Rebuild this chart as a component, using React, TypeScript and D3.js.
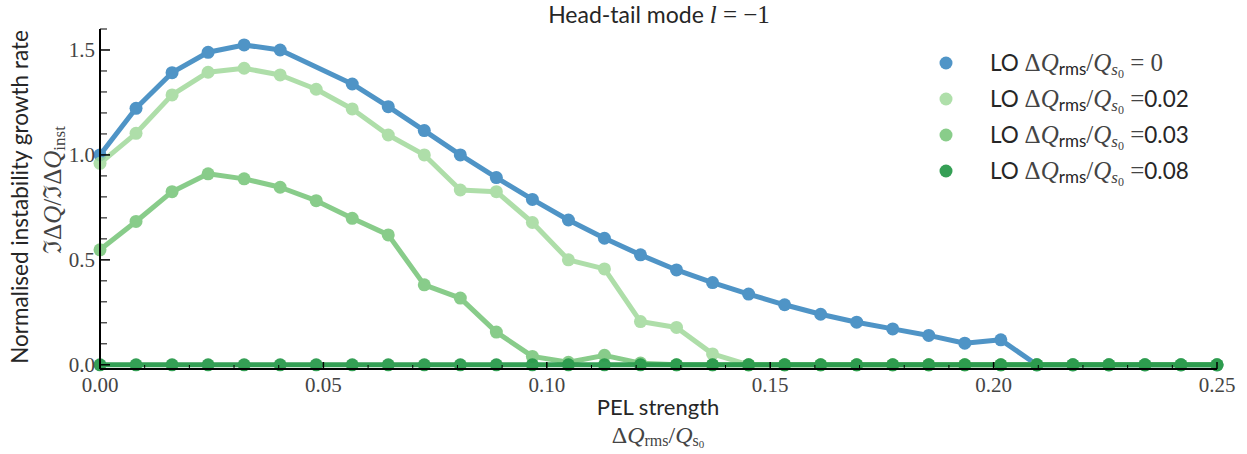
import React from "react";
import * as d3 from "d3";

const W = 1247;
const H = 454;

const N = 32;
const xMax = 0.25;
const xValues = d3.range(N).map((i) => (i * xMax) / (N - 1));

const lo0: (number | null)[] = [1.0, 1.222, 1.392, 1.489, 1.524, 1.5, null, 1.338, 1.23, 1.116, 1.0, 0.892, 0.788, 0.69, 0.603, 0.524, 0.452, 0.392, 0.337, 0.286, 0.241, 0.203, 0.171, 0.14, 0.103, 0.119, 0, 0, 0, 0, 0, 0];
const lo002: (number | null)[] = [0.96, 1.103, 1.286, 1.394, 1.413, 1.381, 1.313, 1.219, 1.095, 1.0, 0.833, 0.825, 0.678, 0.5, 0.457, 0.206, 0.178, 0.052, 0, 0, 0, 0, 0, 0, 0, 0, 0, 0, 0, 0, 0, 0];
const lo003: (number | null)[] = [0.548, 0.683, 0.825, 0.91, 0.886, 0.846, 0.782, 0.698, 0.619, 0.381, 0.318, 0.156, 0.04, 0.012, 0.045, 0.008, 0, 0, 0, 0, 0, 0, 0, 0, 0, 0, 0, 0, 0, 0, 0, 0];
const lo008: (number | null)[] = [0, 0, 0, 0, 0, 0, 0, 0, 0, 0, 0, 0, 0, 0, 0, 0, 0, 0, 0, 0, 0, 0, 0, 0, 0, 0, 0, 0, 0, 0, 0, 0];

const seriesValues = [lo0, lo002, lo003, lo008];
const seriesSuffix = ["= 0", "=0.02", "=0.03", "=0.08"];
const seriesColors = ["#3182bd", "#a1d99b", "#74c476", "#2a9a4c"];
const seriesOpacity = [0.85, 0.85, 0.85, 0.95];

const xMajorTicks = [0, 0.05, 0.1, 0.15, 0.2, 0.25];
const yMajorTicks = [0, 0.5, 1.0, 1.5];

const SANS = "Lato, 'Noto Sans', sans-serif";
const SERIF = "'Liberation Serif', 'DejaVu Serif', serif";

export default function App() {
  const left = 100, right = 1217, top = 29, bottom = 369;
  const x = d3.scaleLinear().domain([0, xMax]).range([left, right]);
  const y = d3.scaleLinear().domain([-0.02, 1.6]).range([bottom, top]);

  const line = d3
    .line<{ x: number; v: number }>()
    .x((d) => x(d.x))
    .y((d) => y(d.v));

  const xMinor = d3.range(0, 0.2501, 0.01).filter((t) => !xMajorTicks.some((m) => Math.abs(m - t) < 1e-6));
  const yMinor = d3.range(0, 1.601, 0.1).filter((t) => !yMajorTicks.some((m) => Math.abs(m - t) < 1e-6));

  const legendX = 946;
  const legendY0 = 63;
  const legendDy = 36;

  const MS = 25; // math size
  const SS = 17; // subscript size

  return (
    <svg width={W} height={H} style={{ position: "absolute", left: 0, top: 0, background: "#fff" }}>
      {/* title */}
      <text x={659} y={23} textAnchor="middle" fontSize={23} fill="#262626" fontFamily={SANS}>
        Head-tail mode{" "}
        <tspan fontFamily={SERIF} fontStyle="italic" fontSize={MS}>l</tspan>
        <tspan fontFamily={SERIF} fontSize={MS}> = −1</tspan>
      </text>

      {/* series */}
      {seriesValues.map((vals, si) => {
        const pts = xValues
          .map((xv, i) => ({ x: xv, v: vals[i] }))
          .filter((d) => d.v !== null) as { x: number; v: number }[];
        return (
          <g key={si} opacity={seriesOpacity[si]}>
            <path d={line(pts) || ""} fill="none" stroke={seriesColors[si]} strokeWidth={5} strokeLinejoin="round" />
            {pts.map((d, i) => (
              <circle key={i} cx={x(d.x)} cy={y(d.v)} r={6.5} fill={seriesColors[si]} />
            ))}
          </g>
        );
      })}

      {/* spines */}
      <line x1={left} x2={left} y1={top} y2={bottom} stroke="#000" strokeWidth={2} />
      <line x1={left} x2={right} y1={bottom} y2={bottom} stroke="#000" strokeWidth={2} />

      {/* x ticks */}
      {xMajorTicks.map((t) => (
        <g key={"xm" + t}>
          <line x1={x(t)} x2={x(t)} y1={bottom} y2={bottom - 7} stroke="#000" strokeWidth={1.5} />
          <text x={x(t)} y={392} textAnchor="middle" fontSize={21} fill="#444" fontFamily={SERIF}>
            {t.toFixed(2)}
          </text>
        </g>
      ))}
      {xMinor.map((t) => (
        <line key={"xn" + t} x1={x(t)} x2={x(t)} y1={bottom} y2={bottom - 4} stroke="#000" strokeWidth={1} />
      ))}

      {/* y ticks */}
      {yMajorTicks.map((t) => (
        <g key={"ym" + t}>
          <line x1={left} x2={left + 10} y1={y(t)} y2={y(t)} stroke="#000" strokeWidth={1.5} />
          <text x={95} y={y(t) + 7} textAnchor="end" fontSize={21} fill="#444" fontFamily={SERIF}>
            {t.toFixed(1)}
          </text>
        </g>
      ))}
      {yMinor.map((t) => (
        <line key={"yn" + t} x1={left} x2={left + 7} y1={y(t)} y2={y(t)} stroke="#000" strokeWidth={1} />
      ))}

      {/* y label */}
      <text transform="translate(28,197) rotate(-90)" textAnchor="middle" fontSize={22.5} fill="#262626" fontFamily={SANS}>
        Normalised instability growth rate
      </text>
      <text transform="translate(61,190) rotate(-90)" textAnchor="middle" fontSize={MS} fill="#444" fontFamily={SERIF}>
        ℑΔ<tspan fontStyle="italic">Q</tspan>/ℑΔ<tspan fontStyle="italic">Q</tspan>
        <tspan fontSize={SS} dy={4}>inst</tspan>
      </text>

      {/* x label */}
      <text x={658} y={415} textAnchor="middle" fontSize={22} fill="#262626" fontFamily={SANS}>
        PEL strength
      </text>
      <text x={658} y={443} textAnchor="middle" fontSize={24} fill="#444" fontFamily={SERIF}>
        Δ<tspan fontStyle="italic">Q</tspan>
        <tspan fontSize={16} dy={3}>rms</tspan>
        <tspan dy={-3}>/</tspan>
        <tspan fontStyle="italic">Q</tspan>
        <tspan fontSize={16} dy={3}>s</tspan>
        <tspan fontSize={11} dy={2}>0</tspan>
      </text>

      {/* legend */}
      {seriesColors.map((c, i) => {
        const ly = legendY0 + i * legendDy;
        const suf = seriesSuffix[i];
        return (
          <g key={"lg" + i}>
            <circle cx={legendX} cy={ly} r={6.5} fill={c} opacity={seriesOpacity[i]} />
            <text x={990} y={ly + 8} fontSize={22.5} fill="#262626" fontFamily={SANS}>
              LO{" "}
              <tspan fontFamily={SERIF} fontSize={MS} fill="#444">Δ</tspan>
              <tspan fontFamily={SERIF} fontSize={MS} fontStyle="italic" fill="#444">Q</tspan>
              <tspan fontSize={SS} dy={4}>rms</tspan>
              <tspan fontFamily={SERIF} fontSize={MS} dy={-4} fill="#444">/</tspan>
              <tspan fontFamily={SERIF} fontSize={MS} fontStyle="italic" fill="#444">Q</tspan>
              <tspan fontFamily={SERIF} fontSize={SS} fontStyle="italic" dy={4} fill="#444">s</tspan>
              <tspan fontFamily={SERIF} fontSize={12} dy={3} fill="#444">0</tspan>
              {suf === "= 0" ? (
                <tspan fontFamily={SERIF} fontSize={MS} dy={-7} fill="#444">{" = 0"}</tspan>
              ) : (
                <>
                  <tspan fontFamily={SERIF} fontSize={MS} dy={-7} fill="#444">{" ="}</tspan>
                  <tspan>{suf.slice(1)}</tspan>
                </>
              )}
            </text>
          </g>
        );
      })}
    </svg>
  );
}
